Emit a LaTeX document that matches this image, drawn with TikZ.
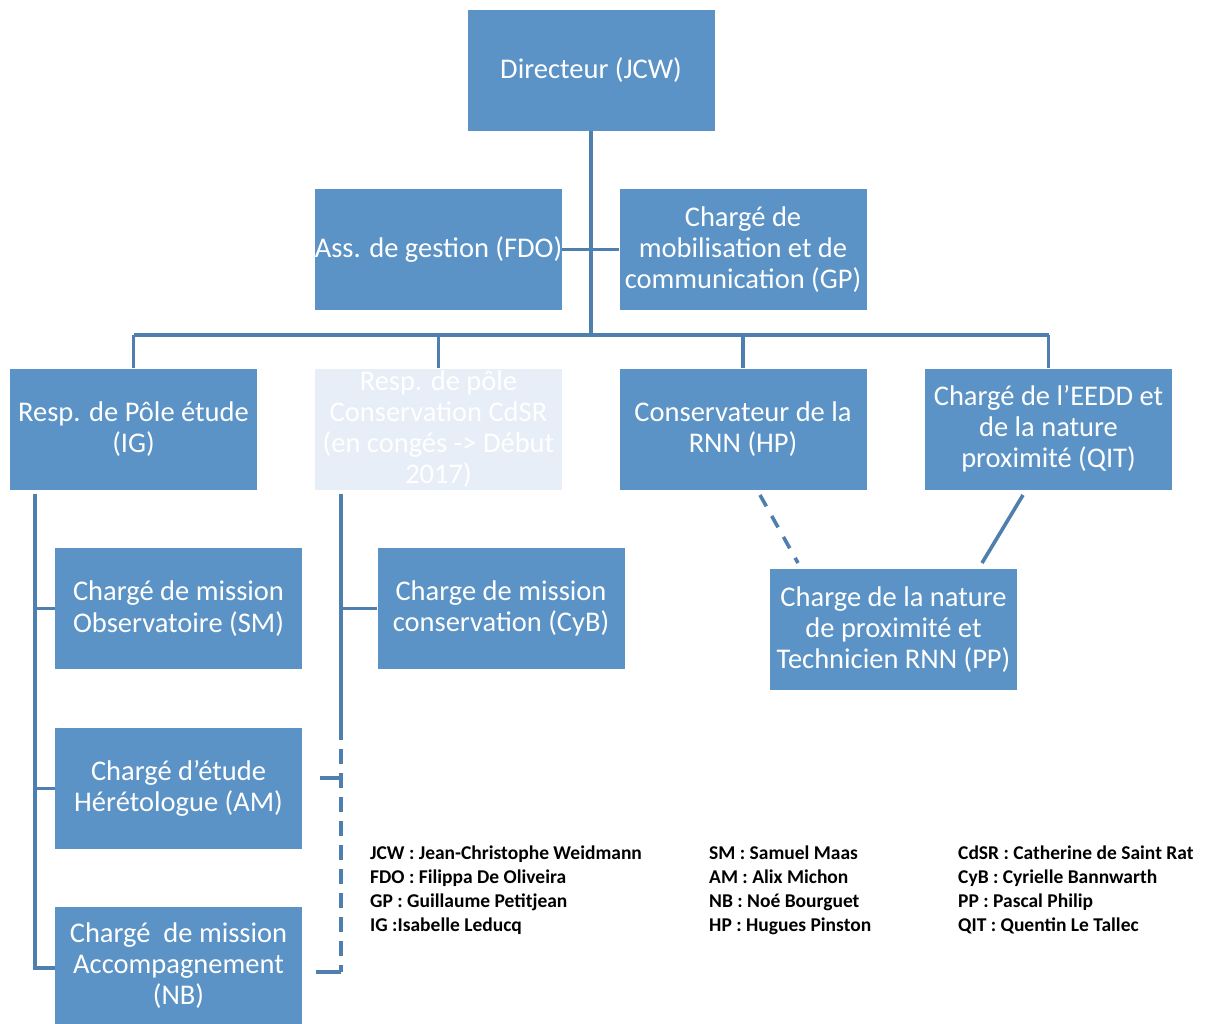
\documentclass[tikz,border=0pt]{standalone}
\usepackage{fontspec}
\setmainfont{Carlito}
\begin{document}
\begin{tikzpicture}[x=1pt,y=-1pt,
  box/.style={rectangle, fill=boxblue, text=white, align=center, inner sep=0pt,
    minimum width=247pt, minimum height=121pt, font=\fontsize{28.5}{31.2}\selectfont},
  fadedbox/.style={box, fill=fadeblue},
  conn/.style={draw=lineblue, line width=3.6pt},
  dconn/.style={conn, dash pattern=on 15pt off 9pt},
  legend/.style={anchor=north west, align=left, inner sep=0pt,
    font=\bfseries\fontsize{19.5}{24}\selectfont, text=black}]
\definecolor{boxblue}{HTML}{5B93C6}
\definecolor{fadeblue}{HTML}{E7EEF7}
\definecolor{lineblue}{HTML}{4F7FAE}
\useasboundingbox[fill=white] (0,0) rectangle (1207,1023);

% top
\node[box] (dir) at (591,70.5) {Directeur (JCW)};
\node[box] (fdo) at (438.5,249.5) {Ass. de gestion (FDO)};
\node[box] (gp) at (743,249.5) {Chargé de\\mobilisation et de\\communication (GP)};

% second row
\node[box] (etude) at (133.5,429) {Resp. de Pôle étude\\(IG)};
\node[fadedbox] (cons) at (438.5,429) {Resp. de pôle\\Conservation CdSR\\(en congés -> Début\\2017)};
\node[box] (rnn) at (743,429) {Conservateur de la\\RNN (HP)};
\node[box] (eedd) at (1048.5,429) {Chargé de l’EEDD et\\de la nature\\proximité (QIT)};

% sub boxes
\node[box] (sm) at (178.5,608.5) {Chargé de mission\\Observatoire (SM)};
\node[box] (am) at (178.5,788.5) {Chargé d’étude\\Hérétologue (AM)};
\node[box, minimum height=117pt] (nb) at (178.5,965.5) {Chargé~ de mission\\Accompagnement\\(NB)};
\node[box] (cyb) at (501,608.5) {Charge de mission\\conservation (CyB)};
\node[box] (pp) at (893.5,629.5) {Charge de la nature\\de proximité et\\Technicien RNN (PP)};

% coordinates
\coordinate (busL) at (133.5,335);
\coordinate (busR) at (1048.5,335);
\coordinate (lt) at (35,494);
\coordinate (lb) at (35,968);
\coordinate (mt) at (341,494);
\coordinate (mm) at (341,725);
\coordinate (mb) at (341,972);
\coordinate (amtick) at (320,778);
\coordinate (nbtick) at (316,972);
\coordinate (rnnd) at (760,495);
\coordinate (ppd) at (798,563);
\coordinate (eeddd) at (1023,495);
\coordinate (pps) at (982,563);

% connectors
\draw[conn] (dir.south) -- (dir.south |- busL);
\draw[conn] (fdo.east) -- (gp.west);
\draw[conn] (busL) -- (busR);
\draw[conn] (busL) -- (etude.north);
\draw[conn] (cons.north |- busL) -- (cons.north);
\draw[conn] (rnn.north |- busL) -- (rnn.north);
\draw[conn] (busR) -- (eedd.north);

\draw[conn] (lt) -- (lb) -- (nb.west |- lb);
\draw[conn] (lt |- sm.west) -- (sm.west);
\draw[conn] (lt |- am.west) -- (am.west);

\draw[conn] (mt) -- (mm);
\draw[dconn] (mm) -- (mb);
\draw[conn] (mt |- cyb.west) -- (cyb.west);
\draw[conn] (amtick) -- (amtick -| mt);
\draw[conn] (nbtick) -- (mb);

\draw[conn, dash pattern=on 13pt off 11pt] (rnnd) -- (ppd);
\draw[conn] (eeddd) -- (pps);

% legend
\node[legend] (leg1) at (370,846) {JCW : Jean-Christophe Weidmann\\FDO : Filippa De Oliveira\\GP : Guillaume Petitjean\\IG :Isabelle Leducq};
\node[legend] (leg2) at (709,846) {SM : Samuel Maas\\AM : Alix Michon\\NB : Noé Bourguet\\HP : Hugues Pinston};
\node[legend] (leg3) at (958,846) {CdSR : Catherine de Saint Rat\\CyB : Cyrielle Bannwarth\\PP : Pascal Philip\\QIT : Quentin Le Tallec};
\end{tikzpicture}
\end{document}
